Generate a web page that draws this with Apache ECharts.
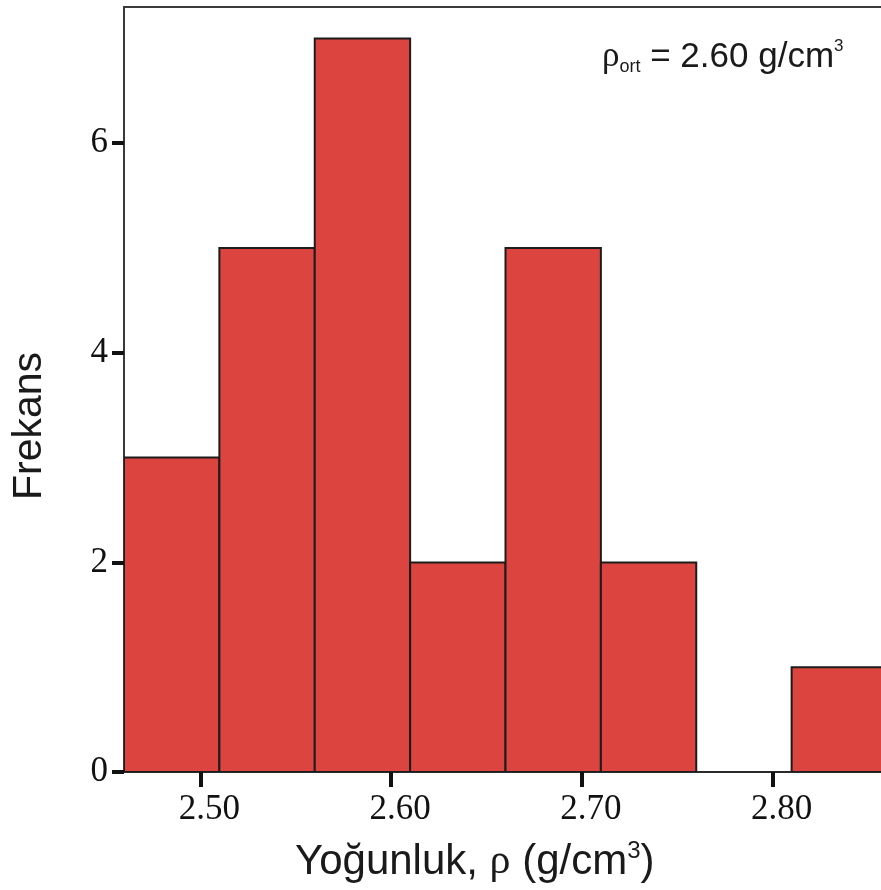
<!DOCTYPE html>
<html>
<head>
<meta charset="utf-8">
<script src="https://cdn.jsdelivr.net/npm/echarts@6/dist/echarts.min.js"></script>
<style>
  html, body { margin: 0; padding: 0; background: #ffffff; overflow: hidden; }
  /* the plot frame runs on past the right edge of the page */
  #chart { width: 895px; height: 890px; }
</style>
</head>
<body>
<div id="chart"></div>
<script>
// Density histogram: lower edge of each bin, common bin width, and counts
const binStarts = [2.46, 2.51, 2.56, 2.61, 2.66, 2.71, 2.76, 2.81];
const binWidth = 0.05;
const frequencies = [3, 5, 7, 2, 5, 2, 0, 1];

// Axis ticks and range
const xTicks = [2.50, 2.60, 2.70, 2.80];
const yTicks = [0, 2, 4, 6];
const xRange = [2.46, 2.86];
const yRange = [0, 7.3];

// Texts
const xTitle = 'Yoğunluk, ';
const yTitle = 'Frekans';
const meanLabel = '2.60';

const histData = binStarts.map((s, i) => [s, +(s + binWidth).toFixed(2), frequencies[i]]);

const chart = echarts.init(document.getElementById('chart'), null, { renderer: 'canvas' });

chart.setOption({
  backgroundColor: '#ffffff',
  animation: false,
  grid: {
    left: 124, top: 7, width: 763, height: 765,
    show: true, borderColor: '#3a3a3a', borderWidth: 2, backgroundColor: 'transparent'
  },
  xAxis: {
    type: 'value', min: xRange[0], max: xRange[1],
    axisLine: { show: true, lineStyle: { color: '#2a2a2a', width: 2 } },
    axisTick: { show: true, length: 15, lineStyle: { color: '#111', width: 4 }, customValues: xTicks },
    axisLabel: {
      customValues: xTicks, margin: 20, padding: [0, 0, 0, 18],
      formatter: v => v.toFixed(2),
      fontFamily: 'Liberation Serif', fontSize: 35, color: '#111'
    },
    splitLine: { show: false }
  },
  yAxis: {
    type: 'value', min: yRange[0], max: yRange[1],
    axisLine: { show: true, lineStyle: { color: '#3a3a3a', width: 2 } },
    axisTick: { show: true, length: 12, lineStyle: { color: '#111', width: 4 }, customValues: yTicks },
    axisLabel: {
      customValues: yTicks, margin: 16,
      formatter: v => String(v),
      fontFamily: 'Liberation Serif', fontSize: 35, color: '#111'
    },
    splitLine: { show: false }
  },
  series: [{
    type: 'custom',
    clip: true,
    data: histData,
    encode: { x: [0, 1], y: 2 },
    renderItem: function (params, api) {
      const count = api.value(2);
      if (!(count > 0)) return null;
      const p0 = api.coord([api.value(0), 0]);
      const p1 = api.coord([api.value(1), count]);
      return {
        type: 'rect',
        shape: { x: p0[0], y: p1[1], width: p1[0] - p0[0], height: p0[1] - p1[1] },
        style: { fill: '#DC443F', stroke: '#1c1c1c', lineWidth: 2 }
      };
    }
  }],
  graphic: [
    {
      type: 'text', left: 295, top: 839,
      style: {
        text: '{t|' + xTitle + '}{r|ρ}{t| (g/cm}{sup|3}{t|)}',
        rich: {
          t: { fontFamily: 'Liberation Sans', fontSize: 42, fill: '#1a1a1a', lineHeight: 46 },
          r: { fontFamily: 'Liberation Serif', fontSize: 42, fill: '#1a1a1a', lineHeight: 46 },
          sup: { fontFamily: 'Liberation Sans', fontSize: 24, fill: '#1a1a1a', lineHeight: 46, verticalAlign: 'top' }
        }
      }
    },
    {
      type: 'text', x: 30, y: 426, rotation: Math.PI / 2,
      style: {
        text: yTitle, fontFamily: 'Liberation Sans', fontSize: 41, fill: '#1a1a1a',
        align: 'center', verticalAlign: 'middle'
      }
    },
    {
      type: 'text', left: 602, top: 38,
      style: {
        text: '{r|ρ}{sub|ort}{t| = ' + meanLabel + ' g/cm}{sup|3}',
        rich: {
          r: { fontFamily: 'Liberation Serif', fontSize: 35, fill: '#1a1a1a', lineHeight: 38 },
          sub: { fontFamily: 'Liberation Sans', fontSize: 18, fill: '#1a1a1a', lineHeight: 38, verticalAlign: 'bottom' },
          t: { fontFamily: 'Liberation Sans', fontSize: 35, fill: '#1a1a1a', lineHeight: 38 },
          sup: { fontFamily: 'Liberation Sans', fontSize: 17, fill: '#1a1a1a', lineHeight: 38, verticalAlign: 'top' }
        }
      }
    }
  ]
});
</script>
</body>
</html>
